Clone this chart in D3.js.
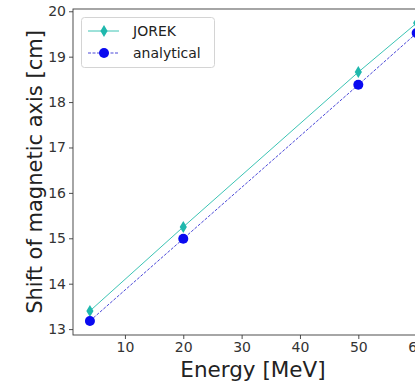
<!DOCTYPE html>
<html>
<head>
<meta charset="utf-8">
<script src="https://cdn.jsdelivr.net/npm/d3@7"></script>
<style>
  html, body { margin: 0; padding: 0; background: #fff; }
  svg { display: block; font-family: "DejaVu Sans", sans-serif; }
</style>
</head>
<body>
<svg id="chart" width="415" height="384"></svg>
<script>
// Beam energy (MeV) and shift of the magnetic axis (cm)
const energies = [4, 20, 50, 60];
const jorek = [13.40, 15.25, 18.66, 19.74];
const analytical = [13.18, 14.99, 18.38, 19.52];
const xTicks = [10, 20, 30, 40, 50, 60];
const yTicks = [13, 14, 15, 16, 17, 18, 19, 20];
const seriesNames = ["JOREK", "analytical"];

const svg = d3.select("#chart");
const plotLeft = 73, plotTop = 9, plotBottom = 335, plotRight = 440;

const x = d3.scaleLinear().domain([1.1, 64]).range([plotLeft, plotRight]);
const y = d3.scaleLinear().domain([12.87, 20.05]).range([plotBottom, plotTop]);

// frame
svg.append("rect")
  .attr("x", plotLeft).attr("y", plotTop)
  .attr("width", plotRight - plotLeft).attr("height", plotBottom - plotTop)
  .attr("fill", "none").attr("stroke", "#3a3a3a").attr("stroke-width", 0.9);

// axes
const xAxis = svg.append("g").attr("transform", `translate(0,${plotBottom})`)
  .call(d3.axisBottom(x).tickValues(xTicks).tickSize(4).tickPadding(3).tickFormat(d3.format("d")));
const yAxis = svg.append("g").attr("transform", `translate(${plotLeft},0)`)
  .call(d3.axisLeft(y).tickValues(yTicks).tickSize(4).tickPadding(3).tickFormat(d3.format("d")));
[xAxis, yAxis].forEach(g => {
  g.select(".domain").remove();
  g.selectAll(".tick line").attr("stroke", "#3a3a3a").attr("stroke-width", 0.9);
  g.selectAll(".tick text").attr("fill", "#333").style("font-size", "14px")
    .style("font-family", "DejaVu Sans, sans-serif");
});

// axis titles
svg.append("text")
  .attr("x", 253).attr("y", 377)
  .attr("text-anchor", "middle")
  .style("font-size", "21.5px").attr("fill", "#222")
  .text("Energy [MeV]");
svg.append("text")
  .attr("transform", `translate(42,${(plotTop + plotBottom) / 2}) rotate(-90)`)
  .attr("text-anchor", "middle")
  .style("font-size", "21px").attr("fill", "#222")
  .text("Shift of magnetic axis [cm]");

const plot = svg.append("g");
const line = d3.line().x(d => x(d[0])).y(d => y(d[1]));
const jorekPts = energies.map((e, i) => [e, jorek[i]]);
const anaPts = energies.map((e, i) => [e, analytical[i]]);

const tealLine = "#3cc4b4", tealMark = "#1fb8ad";
const blueLine = "#4a48d8", blueMark = "#0a0af0";

plot.append("path").datum(jorekPts).attr("d", line)
  .attr("fill", "none").attr("stroke", tealLine).attr("stroke-width", 1);
plot.append("path").datum(anaPts).attr("d", line)
  .attr("fill", "none").attr("stroke", blueLine).attr("stroke-width", 1)
  .attr("stroke-dasharray", "3,1.5");

const diamond = (cx, cy) => `M${cx},${cy - 6}L${cx + 3.6},${cy}L${cx},${cy + 6}L${cx - 3.6},${cy}Z`;
plot.selectAll(".jk").data(jorekPts).enter().append("path")
  .attr("d", d => diamond(x(d[0]), y(d[1])))
  .attr("fill", tealMark);
plot.selectAll(".an").data(anaPts).enter().append("circle")
  .attr("cx", d => x(d[0])).attr("cy", d => y(d[1])).attr("r", 5)
  .attr("fill", blueMark);

// legend
const lg = svg.append("g");
lg.append("rect").attr("x", 81.5).attr("y", 17.5).attr("width", 133).attr("height", 50)
  .attr("rx", 3).attr("fill", "#fff").attr("fill-opacity", 0.85)
  .attr("stroke", "#d4d4d4").attr("stroke-width", 1);
const rows = [
  { name: seriesNames[0], y: 31, lc: tealLine, mc: tealMark, dash: null, mark: "d" },
  { name: seriesNames[1], y: 53, lc: blueLine, mc: blueMark, dash: "3,1.5", mark: "o" }
];
rows.forEach(r => {
  lg.append("line").attr("x1", 88).attr("x2", 119).attr("y1", r.y).attr("y2", r.y)
    .attr("stroke", r.lc).attr("stroke-width", 1).attr("stroke-dasharray", r.dash);
  if (r.mark === "d") lg.append("path").attr("d", diamond(104, r.y)).attr("fill", r.mc);
  else lg.append("circle").attr("cx", 104).attr("cy", r.y).attr("r", 5).attr("fill", r.mc);
  lg.append("text").attr("x", 133).attr("y", r.y + 5)
    .style("font-size", "14px").attr("fill", "#222").text(r.name);
});
</script>
</body>
</html>
